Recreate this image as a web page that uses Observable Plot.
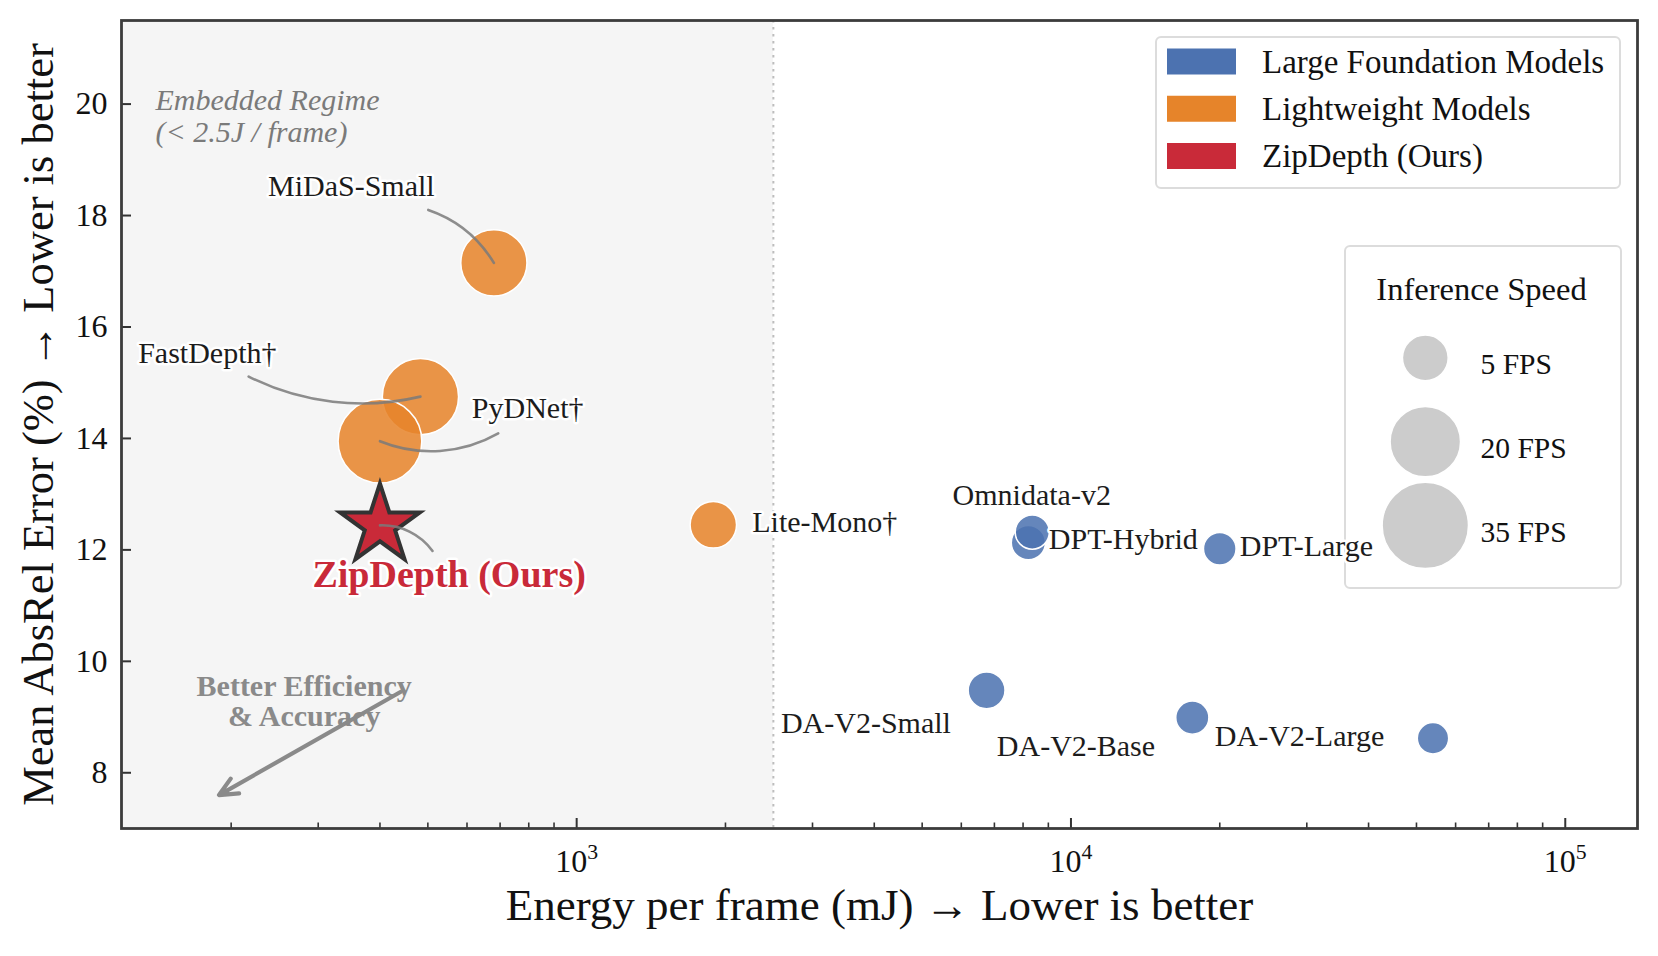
<!DOCTYPE html>
<html>
<head>
<meta charset="utf-8">
<title>Energy vs. accuracy of monocular depth models</title>
<script src="https://cdn.jsdelivr.net/npm/d3@7"></script>
<script src="https://cdn.jsdelivr.net/npm/@observablehq/plot@0.6"></script>
<style>
  html, body { margin: 0; padding: 0; background: #fff; }
  #chart { position: relative; width: 1658px; height: 956px; font-family: "Liberation Serif", "Times New Roman", serif; color: #111; }
  #chart > svg { position: absolute; left: 0; top: 0; overflow: visible; z-index: 2; pointer-events: none; }
  .legend-box { position: absolute; z-index: 1; box-sizing: border-box; background: rgba(255,255,255,0.92); border: 2px solid #dcdcdc; border-radius: 6px; }
  .legend-box svg { position: absolute; left: -2px; top: -2px; overflow: visible; }
</style>
</head>
<body>
<div id="chart"></div>
<script>
// ---- Groups -------------------------------------------------------------
const groups = ["Large Foundation Models", "Lightweight Models", "ZipDepth (Ours)"];
const groupColors = ["#4C72B0", "#E6842A", "#C92A39"];

// ---- Models (energy in mJ per frame, mean AbsRel in %, speed in FPS) ----
const models = ["DA-V2-Small", "DA-V2-Base", "DA-V2-Large", "DPT-Large", "DPT-Hybrid",
                "Omnidata-v2", "MiDaS-Small", "Lite-Mono†", "FastDepth†", "PyDNet†"];
const modelGroup = ["Large Foundation Models", "Large Foundation Models", "Large Foundation Models",
                    "Large Foundation Models", "Large Foundation Models", "Large Foundation Models",
                    "Lightweight Models", "Lightweight Models", "Lightweight Models", "Lightweight Models"];
const energyMJ = [6750, 17600, 54000, 20000, 8200, 8350, 680, 1890, 483, 400];
const absRel   = [9.48, 8.99, 8.62, 12.02, 12.13, 12.32, 17.15, 12.45, 14.75, 13.95];
const speedFps = [1.9, 1.1, 0.8, 1.0, 1.3, 1.3, 16, 5, 24, 31];

// ---- Our model ------------------------------------------------------------
const oursName = "ZipDepth (Ours)";
const oursEnergyMJ = 400;
const oursAbsRel = 12.44;

// ---- Embedded budget (2.5 J per frame) and axes ---------------------------
const embeddedLimitMJ = 2500;
const xDomain = [120, 140000];
const yDomain = [7, 21.5];
const yTicks = [8, 10, 12, 14, 16, 18, 20];
const xMajorTicks = [1e3, 1e4, 1e5];
const speedLegend = [5, 20, 35];

const xLabel = "Energy per frame (mJ) \u2192 Lower is better";
const yLabel = "Mean AbsRel Error (%) \u2192 Lower is better";
const embeddedNote = "Embedded Regime\n(< 2.5J / frame)";
const efficiencyNote = "Better Efficiency\n& Accuracy";

// ---- Annotation layout (data units) ---------------------------------------
const labelLayout = {
  "MiDaS-Small": {x: 350, y: 18.53, anchor: "middle"},
  "FastDepth†":  {x: 179, y: 15.53, anchor: "middle"},
  "PyDNet†":     {x: 796, y: 14.54, anchor: "middle"},
  "Lite-Mono†":  {x: 2266, y: 12.50, anchor: "start"},
  "Omnidata-v2": {x: 8330, y: 12.98, anchor: "middle"},
  "DPT-Hybrid":  {x: 9020, y: 12.19, anchor: "start"},
  "DPT-Large":   {x: 21950, y: 12.06, anchor: "start"},
  "DA-V2-Small": {x: 5717, y: 8.89, anchor: "end"},
  "DA-V2-Base":  {x: 10235, y: 8.48, anchor: "middle"},
  "DA-V2-Large": {x: 19545, y: 8.66, anchor: "start"}
};
const leaderLayout = {
  "MiDaS-Small":     {x: 501, y: 18.10, bend: 20},
  "FastDepth†":      {x: 217, y: 15.11, bend: -20},
  "PyDNet†":         {x: 694, y: 14.09, bend: 26},
  "ZipDepth (Ours)": {x: 511, y: 11.98, bend: -28}
};
const oursLabelAt = {x: 552, y: 11.56};
const efficiencyTextAt = {x: 281, y: 9.28};
const efficiencyArrow = {x1: 440, y1: 9.45, x2: 189, y2: 7.6};

// ---- Tables built from the arrays above -----------------------------------
const table = models.map((name, i) => ({
  name, group: modelGroup[i], energy: energyMJ[i], absRel: absRel[i], fps: speedFps[i]
}));
const ours = {name: oursName, group: groups[2], energy: oursEnergyMJ, absRel: oursAbsRel};
const byName = new Map([...table, ours].map(d => [d.name, d]));

const xMinorTicks = [];
for (const decade of [1e2, 1e3, 1e4]) {
  for (let m = 2; m <= 9; m++) {
    const v = m * decade;
    if (v > xDomain[0] && v < xDomain[1]) xMinorTicks.push(v);
  }
}

const serif = "'Liberation Serif', 'Times New Roman', serif";
const sizeScale = {type: "sqrt", domain: [0, 35], range: [10.7, 43.8]};
const colorScale = {domain: groups, range: groupColors};

// Curved gray leader lines from a label towards its marker
const leaders = Object.entries(leaderLayout).map(([name, l]) => {
  const p = byName.get(name);
  return Plot.arrow([{sx: l.x, sy: l.y, px: p.energy, py: p.absRel}], {
    x1: "sx", y1: "sy", x2: "px", y2: "py",
    bend: l.bend, headLength: 0,
    stroke: "#7a7a7a", strokeOpacity: 0.85, strokeWidth: 2.6
  });
});

// Model name labels with a white halo
const labels = Object.entries(labelLayout).map(([name, l]) =>
  Plot.text([{name, x: l.x, y: l.y}], {
    x: "x", y: "y", text: "name", textAnchor: l.anchor,
    fontSize: 30, fontFamily: serif, fill: "#1c1c1c",
    stroke: "white", strokeWidth: 5, strokeLinejoin: "round"
  })
);

const chart = Plot.plot({
  width: 1658,
  height: 956,
  marginLeft: 121,
  marginRight: 21,
  marginTop: 20,
  marginBottom: 128,
  style: {fontFamily: serif, fontSize: "30px", color: "#111", background: "transparent", overflow: "visible"},
  x: {type: "log", domain: xDomain, axis: null},
  y: {domain: yDomain, axis: null},
  r: sizeScale,
  color: colorScale,
  marks: [
    // embedded regime shading and its boundary
    Plot.rect([embeddedLimitMJ], {x1: () => xDomain[0], x2: d => d, fill: "#f5f5f5"}),
    Plot.ruleX([embeddedLimitMJ], {stroke: "#bdbdbd", strokeWidth: 2, strokeDasharray: "2.5,4.5"}),
    Plot.text([embeddedNote], {
      text: d => d, frameAnchor: "top-left", textAnchor: "start", lineAnchor: "top",
      dx: 34, dy: 67, lineHeight: 1.06, fontSize: 30, fontStyle: "italic", fill: "#7a7a7a"
    }),
    Plot.text([efficiencyNote], {
      x: () => efficiencyTextAt.x, y: () => efficiencyTextAt.y, text: d => d,
      lineHeight: 1.0, fontSize: 30, fontWeight: "bold", fill: "#8a8a8a"
    }),
    Plot.arrow([efficiencyArrow], {
      x1: "x1", y1: "y1", x2: "x2", y2: "y2",
      stroke: "#8a8a8a", strokeWidth: 4.2, headLength: 7.2, headAngle: 50
    }),
    // models
    Plot.dot(table, {
      x: "energy", y: "absRel", r: "fps", fill: "group", sort: null,
      fillOpacity: 0.86, stroke: "white", strokeWidth: 1.5
    }),
    Plot.dot([ours], {
      x: "energy", y: "absRel", fill: "group", symbol: "star", r: 25,
      stroke: "#333", strokeWidth: 4, strokeLinejoin: "miter"
    }),
    ...leaders,
    ...labels,
    Plot.text([ours], {
      x: () => oursLabelAt.x, y: () => oursLabelAt.y, text: "name",
      fontSize: 38, fontWeight: "bold", fill: groupColors[2],
      stroke: "white", strokeWidth: 5, strokeLinejoin: "round"
    }),
    // axes: inward ticks, labels outside
    Plot.axisY(yTicks, {tickSize: 0, tickPadding: 14, fontSize: 32, fill: "#111", tickFormat: d => String(d)}),
    Plot.axisY(yTicks, {tickSize: -10, tickFormat: () => "", stroke: "#333", strokeWidth: 2}),
    Plot.axisX(xMajorTicks, {tickSize: 0, tickPadding: 21, fontSize: 32, fill: "#111",
      tickFormat: d => String(Math.round(Math.log10(d)))}),
    Plot.axisX(xMajorTicks, {tickSize: -10, tickFormat: () => "", stroke: "#333", strokeWidth: 2}),
    Plot.axisX(xMinorTicks, {tickSize: -5.5, tickFormat: () => "", stroke: "#333", strokeWidth: 1.6}),
    Plot.text([xLabel], {text: d => d, frameAnchor: "bottom", lineAnchor: "top", dy: 60, fontSize: 45, fill: "#111"}),
    Plot.text([yLabel], {text: d => d, frameAnchor: "left", textAnchor: "middle", rotate: -90, dx: -83, fontSize: 44.5, fill: "#111"}),
    Plot.frame({stroke: "#3c3c3c", strokeWidth: 2.8})
  ]
});

// Log tick labels as 10 with a raised exponent
d3.select(chart).selectAll('g[aria-label="x-axis tick label"] text').each(function () {
  const exp = this.textContent.trim();
  if (!exp) return;
  const t = d3.select(this).text("");
  t.append("tspan").text("10");
  t.append("tspan").attr("dy", "-0.62em").attr("font-size", "0.68em").text(exp);
});

const root = document.getElementById("chart");
root.appendChild(chart);

// ---- Category legend ------------------------------------------------------
const catBox = d3.select(root).append("div").attr("class", "legend-box")
  .style("left", "1155px").style("top", "36px").style("width", "466px").style("height", "153px");
const catSvg = catBox.append("svg").attr("width", 466).attr("height", 153)
  .attr("font-family", serif);
const rowY = d3.scalePoint().domain(groups).range([25.5, 120]);
const rows = catSvg.selectAll("g").data(groups).join("g")
  .attr("transform", d => `translate(0,${rowY(d)})`);
rows.append("rect").attr("x", 12).attr("y", -13).attr("width", 69).attr("height", 26)
  .attr("fill", (d, i) => groupColors[i]);
rows.append("text").attr("x", 107).attr("y", 0).attr("dy", "0.34em")
  .attr("font-size", 33).attr("fill", "#111").text(d => d);

// ---- Inference-speed legend (same size scale as the chart) ----------------
const sizeBox = d3.select(root).append("div").attr("class", "legend-box")
  .style("left", "1344px").style("top", "245px").style("width", "278px").style("height", "344px");
const sizeLegend = Plot.plot({
  width: 278,
  height: 344,
  margin: 0,
  style: {fontFamily: serif, background: "transparent", overflow: "visible"},
  r: sizeScale,
  y: {type: "point", domain: speedLegend, range: [113.5, 284], padding: 0, axis: null},
  marks: [
    Plot.text(["Inference Speed"], {text: d => d, frameAnchor: "top", lineAnchor: "top", dy: 32, fontSize: 33, fill: "#111"}),
    Plot.dot(speedLegend, {y: d => d, r: d => d, frameAnchor: "left", dx: 82, fill: "#cccccc", stroke: "white", strokeWidth: 1.5}),
    Plot.text(speedLegend, {y: d => d, text: d => `${d} FPS`, frameAnchor: "left", textAnchor: "start", dx: 138, dy: 7, fontSize: 30, fill: "#111"})
  ]
});
sizeBox.node().appendChild(sizeLegend);
</script>
</body>
</html>
